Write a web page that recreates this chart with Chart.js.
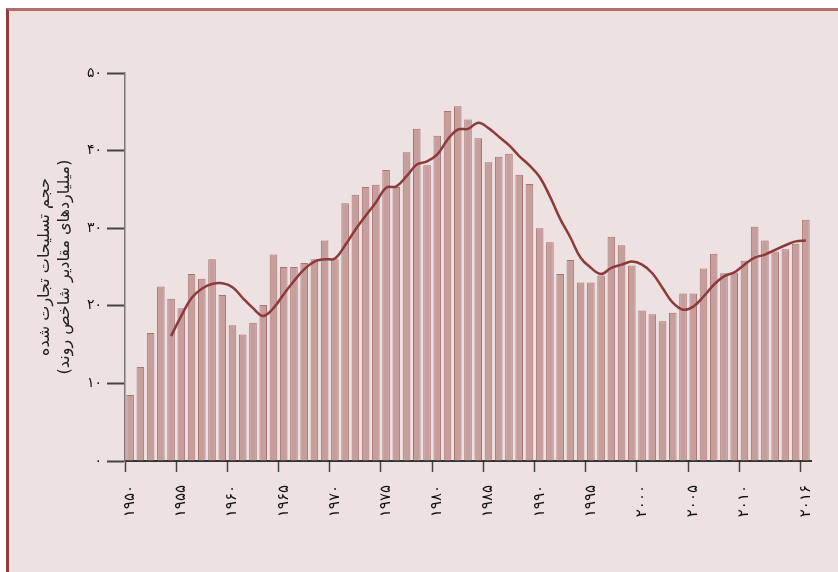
<!DOCTYPE html>
<html>
<head>
<meta charset="utf-8">
<script src="https://cdn.jsdelivr.net/npm/chart.js@4.4.1/dist/chart.umd.min.js"></script>
<style>
  html, body { margin: 0; padding: 0; background: #ffffff; overflow: hidden; }
  #frame {
    position: absolute; left: 6px; top: 8px; width: 900px; height: 600px;
    border-left: 3px solid #8e3c3c; border-top: 3px solid #b36d6d;
    background: #ede1e2;
  }
  #wrap { position: absolute; left: 0; top: 0; width: 838px; height: 572px; }
</style>
</head>
<body>
<div id="frame"></div>
<div id="wrap"><canvas id="grafico" width="838" height="572"></canvas></div>
<script>
// años 1950 - 2016
const anios = [];
for (let a = 1950; a <= 2016; a++) anios.push(a);

// volumen anual (barras)
const volumen = [
  8.5, 12.1, 16.5, 22.5, 20.9, 19.7, 24.1, 23.5, 26.0, 21.4,
  17.5, 16.3, 17.8, 20.1, 26.6, 25.0, 25.0, 25.5, 26.0, 28.4,
  26.0, 33.2, 34.3, 35.3, 35.6, 37.5, 35.3, 39.8, 42.8, 38.1,
  41.9, 45.1, 45.7, 44.0, 41.6, 38.5, 39.2, 39.6, 36.9, 35.7,
  30.0, 28.2, 24.1, 25.9, 23.0, 23.0, 23.9, 28.9, 27.8, 25.2,
  19.4, 18.9, 18.0, 19.1, 21.6, 21.6, 24.8, 26.7, 24.2, 24.3,
  25.8, 30.2, 28.4, 27.0, 27.3, 28.0, 31.1
];

// tendencia (línea), empieza en 1954
const tendencia = [
  null, null, null, null,
  16.1, 18.7, 21.0, 22.2, 22.8, 22.9,
  22.4, 21.0, 19.7, 18.7, 19.7, 21.5, 23.2, 24.7, 25.7, 26.0,
  26.1, 27.8, 29.8, 31.6, 33.3, 35.2, 35.4, 36.7, 38.2, 38.6,
  39.5, 41.4, 42.7, 42.8, 43.6, 42.9, 41.8, 40.7, 39.3, 38.1,
  36.6, 34.1, 31.2, 28.8, 26.2, 24.9, 24.1, 24.9, 25.3, 25.7,
  25.3, 24.2, 22.3, 20.4, 19.5, 19.9, 21.2, 22.7, 23.8, 24.3,
  25.3, 26.2, 26.6, 27.2, 27.8, 28.3, 28.4
];

// años con etiqueta en el eje x
const aniosMarcados = [1950, 1955, 1960, 1965, 1970, 1975, 1980, 1985, 1990, 1995, 2000, 2005, 2010, 2016];
const marcasY = [0, 10, 20, 30, 40, 50];
const tituloY = ['حجم تسلیحات تجارت شده', '(میلیاردهای مقادیر شاخص روند)'];

const digitosFa = '۰۱۲۳۴۵۶۷۸۹';
function aPersa(n) {
  return String(n).replace(/[0-9]/g, d => digitosFa[d]);
}
function conEtiqueta(i) {
  return aniosMarcados.includes(anios[i]);
}

const fuente = 'DejaVu Sans';
const ctx = document.getElementById('grafico').getContext('2d');
new Chart(ctx, {
  data: {
    labels: anios,
    datasets: [
      {
        type: 'line',
        data: tendencia,
        borderColor: '#8c3a3a',
        borderWidth: 2.5,
        tension: 0.4,
        pointRadius: 0,
        order: 0
      },
      {
        type: 'bar',
        data: volumen,
        backgroundColor: '#c69e9c',
        borderColor: '#a87472',
        borderWidth: 1,
        barPercentage: 0.74,
        categoryPercentage: 1,
        order: 1
      }
    ]
  },
  options: {
    responsive: false,
    animation: false,
    layout: { padding: { top: 73, right: 27, left: 0, bottom: 0 } },
    plugins: { legend: { display: false }, tooltip: { enabled: false } },
    scales: {
      x: {
        offset: true,
        grid: {
          drawOnChartArea: false,
          tickLength: 11,
          tickWidth: 1.5,
          tickColor: c => conEtiqueta(c.index) ? '#444444' : 'rgba(0,0,0,0)'
        },
        border: { color: '#333333', width: 2 },
        ticks: {
          autoSkip: false,
          minRotation: 90,
          maxRotation: 90,
          padding: 13,
          color: '#111111',
          font: { family: fuente, size: 15 },
          callback: function(v, i) { return conEtiqueta(i) ? aPersa(anios[i]) : ''; }
        },
        afterFit: s => { s.height = 111; }
      },
      y: {
        min: 0,
        max: 50,
        afterBuildTicks: s => { s.ticks = marcasY.map(v => ({ value: v })); },
        grid: { drawOnChartArea: false, tickLength: 18, tickWidth: 2, tickColor: '#444444' },
        border: { color: '#777777', width: 1.5 },
        ticks: {
          padding: 5,
          color: '#111111',
          font: { family: fuente, size: 14 },
          callback: v => aPersa(v)
        },
        title: {
          display: true,
          text: tituloY,
          color: '#222222',
          font: { family: fuente, size: 16, lineHeight: 1.3 },
          padding: { top: 34, bottom: 0 }
        },
        afterFit: s => { s.width = 125; }
      }
    }
  }
});
</script>
</body>
</html>
